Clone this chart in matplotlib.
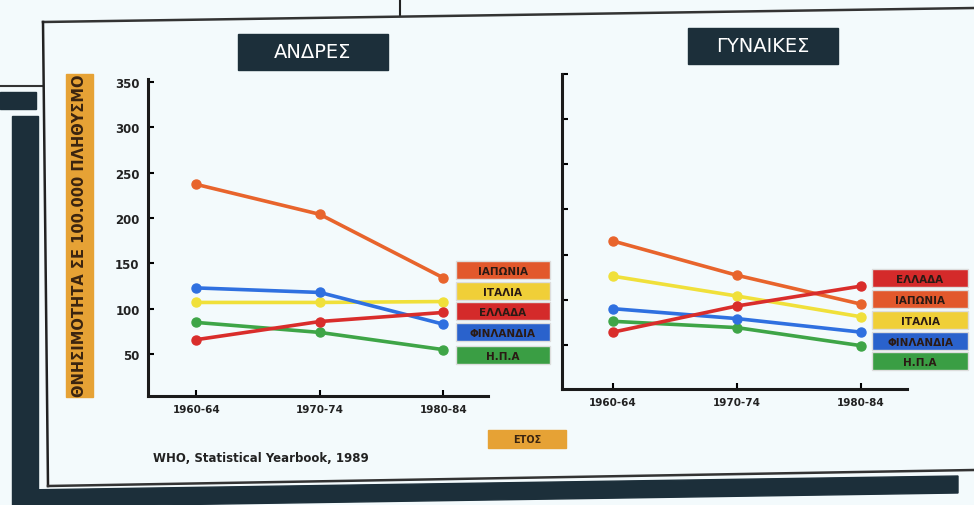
import matplotlib.pyplot as plt
from matplotlib.patches import Rectangle, Polygon

# periods on the x axis
periods = ['1960-64', '1970-74', '1980-84']
yticks = [50, 100, 150, 200, 250, 300, 350]

# men (ΑΝΔΡΕΣ)
men_japan = [237, 204, 134]
men_italy = [107, 107, 108]
men_greece = [66, 86, 96]
men_finland = [123, 118, 83]
men_usa = [85, 74, 55]

# women (ΓΥΝΑΙΚΕΣ)
women_japan = [165, 127, 95]
women_italy = [126, 104, 81]
women_greece = [64, 93, 115]
women_finland = [90, 79, 64]
women_usa = [76, 69, 49]

men_legend = ['ΙΑΠΩΝΙΑ', 'ΙΤΑΛΙΑ', 'ΕΛΛΑΔΑ', 'ΦΙΝΛΑΝΔΙΑ', 'Η.Π.Α']
women_legend = ['ΕΛΛΑΔΑ', 'ΙΑΠΩΝΙΑ', 'ΙΤΑΛΙΑ', 'ΦΙΝΛΑΝΔΙΑ', 'Η.Π.Α']

col = {'ΙΑΠΩΝΙΑ': '#e8642c', 'ΙΤΑΛΙΑ': '#f0e03a', 'ΕΛΛΑΔΑ': '#d92d2b',
       'ΦΙΝΛΑΝΔΙΑ': '#2f70e0', 'Η.Π.Α': '#3ea547'}
box_col = {'ΙΑΠΩΝΙΑ': '#e2582c', 'ΙΤΑΛΙΑ': '#f0cf38', 'ΕΛΛΑΔΑ': '#d42a2a',
           'ΦΙΝΛΑΝΔΙΑ': '#2a62cc', 'Η.Π.Α': '#3a9e44'}

W, H = 974, 506
BG = '#f3fafc'
DARK = '#1c2f3a'
narrow = ['Liberation Sans Narrow', 'DejaVu Sans']

fig = plt.figure(figsize=(W / 100, H / 100), dpi=100)
fig.patch.set_facecolor(BG)


def rect(x0, y0, x1, y1):
    return [x0 / W, 1 - y1 / H, (x1 - x0) / W, (y1 - y0) / H]


# overlay in pixel coords for the page frame
bg = fig.add_axes([0, 0, 1, 1])
bg.set_xlim(0, W)
bg.set_ylim(H, 0)
bg.axis('off')
bg.set_facecolor(BG)

# thin frame lines (scan is a little tilted)
bg.plot([400, 400], [0, 16], color='#222', lw=1.5)
bg.plot([43, 974], [23, 9], color='#333', lw=1.8)
bg.plot([0, 43], [87, 87], color='#333', lw=1.5)
bg.plot([43, 48], [23, 487], color='#222', lw=1.8)
bg.plot([48, 974], [487, 471], color='#333', lw=1.8)
# thick dark bars
bg.add_patch(Rectangle((0, 93), 36, 17, color=DARK))
bg.add_patch(Rectangle((12, 117), 26, 400, color=DARK))
bg.add_patch(Polygon([[20, 491], [958, 477], [958, 494], [20, 508]], color=DARK))

# panel titles
bg.add_patch(Rectangle((238, 35), 150, 36, color=DARK))
bg.text(313, 52, 'ΑΝΔΡΕΣ', color='white', fontsize=14, ha='center', va='center')
bg.add_patch(Rectangle((688, 29), 150, 36, color=DARK))
bg.text(763, 46, 'ΓΥΝΑΙΚΕΣ', color='white', fontsize=14, ha='center', va='center')

# y label in orange box
bg.add_patch(Rectangle((66, 75), 27, 323, color='#e6a235'))
bg.text(80, 236, 'ΘΝΗΣΙΜΟΤΗΤΑ ΣΕ 100.000 ΠΛΗΘΥΣΜΟ', rotation=90, fontsize=10.5,
        fontweight='bold', color='#3a2410', ha='center', va='center', family=narrow)

# x label box and source
bg.add_patch(Rectangle((488, 431), 78, 18, color='#e6a235'))
bg.text(527, 440, 'ΕΤΟΣ', fontsize=7, fontweight='bold', color='#3a2410',
        ha='center', va='center')
bg.text(153, 459, 'WHO, Statistical Yearbook, 1989', fontsize=8.5, fontweight='bold',
        color='#222', ha='left', va='center')


def legend_boxes(names, x0, tops, w, h):
    for name, t in zip(names, tops):
        bg.add_patch(Rectangle((x0, t), w, h, facecolor=box_col[name],
                               edgecolor='#dddddd', lw=1))
        bg.text(x0 + w / 2, t + h / 2 + 1, name, fontsize=7.5, fontweight='bold',
                color='#2a1a14', ha='center', va='center', family=narrow)


legend_boxes(men_legend, 456, [262, 283, 303, 324, 347], 94, 18)
legend_boxes(women_legend, 872, [270, 291, 312, 333, 353], 96, 18)


def panel(r, xl, yl, series, labels_on):
    ax = fig.add_axes(rect(*r))
    ax.patch.set_alpha(0)
    x = range(len(periods))
    for name, vals in series:
        ax.plot(x, vals, color=col[name], lw=2.6, marker='o', ms=6.5, zorder=3)
    ax.set_xlim(*xl)
    ax.set_ylim(*yl)
    for s in ['top', 'right']:
        ax.spines[s].set_visible(False)
    for s in ['left', 'bottom']:
        ax.spines[s].set_linewidth(2.2)
        ax.spines[s].set_color('#1a1a1a')
    ax.set_xticks(list(x))
    ax.set_xticklabels(periods, fontsize=7.5, fontweight='bold', color='#222')
    ax.set_yticks(yticks)
    if labels_on:
        ax.set_yticklabels([str(v) for v in yticks], fontsize=8.5, fontweight='bold',
                           color='#222')
    else:
        ax.set_yticklabels([])
    ax.tick_params(direction='in', length=4, width=1.5, pad=6)
    return ax


panel((148, 80, 488, 397), (-0.39, 2.36), (4, 353),
      [('ΙΤΑΛΙΑ', men_italy), ('ΦΙΝΛΑΝΔΙΑ', men_finland), ('Η.Π.Α', men_usa),
       ('ΕΛΛΑΔΑ', men_greece), ('ΙΑΠΩΝΙΑ', men_japan)], True)
panel((562, 75, 907, 390), (-0.41, 2.37), (1, 350),
      [('ΙΤΑΛΙΑ', women_italy), ('Η.Π.Α', women_usa), ('ΦΙΝΛΑΝΔΙΑ', women_finland),
       ('ΙΑΠΩΝΙΑ', women_japan), ('ΕΛΛΑΔΑ', women_greece)], False)

fig.savefig('out.png', dpi=100, facecolor=BG)
